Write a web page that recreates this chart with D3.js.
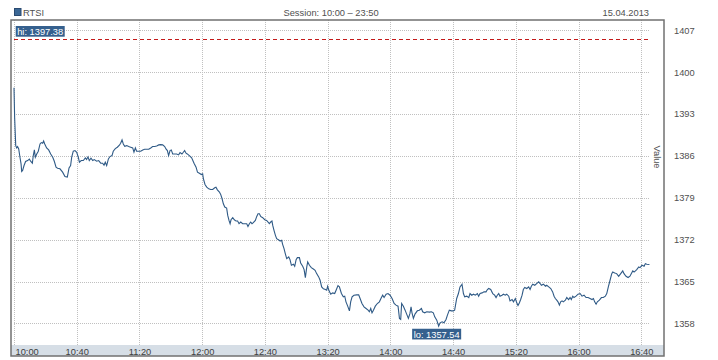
<!DOCTYPE html>
<html><head><meta charset="utf-8">
<script src="https://cdn.jsdelivr.net/npm/d3@7"></script>
<style>
body{margin:0;background:#fff;}
svg text{font-family:"Liberation Sans",Arial,sans-serif;font-size:9.3px;}
</style></head><body><svg id="c" width="718" height="360"></svg>
<script>
// ---- data ----
const seriesName = "RTSI";
const sessionText = "Session: 10:00 \u2013 23:50";
const dateText = "15.04.2013";
const axisTitle = "Value";
const refLevel = 1405.5;                 // dashed reference line
const yTicks = [1358, 1365, 1372, 1379, 1386, 1393, 1400, 1407];
const xTickMinutes = [0, 40, 80, 120, 160, 200, 240, 280, 320, 360, 400];
// minutes after 10:00
const times = [
0,0.4,1.1,1.7,2.3,3.0,3.8,4.5,4.9,5.5,
6.4,7.4,8.7,9.8,10.6,11.7,12.3,13.0,13.6,14.5,
15.5,16.6,17.4,18.3,18.9,19.6,20.8,22.1,23.4,24.7,
25.7,26.8,27.8,29.3,31.0,32.5,34.0,35.1,36.1,36.8,
37.8,38.9,40.0,41.0,41.7,42.9,44.2,45.5,46.3,47.2,
48.0,49.1,50.2,51.2,52.7,54.0,55.3,56.5,57.4,58.2,
59.1,60.2,61.2,62.5,63.3,64.6,65.9,67.2,68.0,68.9,
69.7,70.6,71.9,73.1,74.4,75.7,76.5,77.4,78.2,79.5,
80.8,82.1,83.3,84.6,85.9,87.2,88.4,89.7,91.0,92.3,
93.5,94.8,96.1,96.9,97.8,98.6,99.5,100.3,101.2,102.5,
103.7,105.0,105.9,107.1,108.0,108.8,109.7,110.5,111.8,
113.3,114.8,116.1,117.0,118.2,119.5,120.3,120.8,121.8,122.9,
124.2,125.4,126.7,128.0,128.8,129.7,131.0,131.8,132.7,133.5,
134.4,135.6,136.3,137.1,137.8,138.4,139.5,140.5,141.6,142.6,
143.5,144.6,145.8,147.3,148.4,149.2,150.1,150.9,151.8,152.6,
153.9,154.8,155.6,156.5,157.3,158.6,159.9,161.1,162.0,162.8,
163.7,164.5,165.0,165.8,166.7,167.5,168.6,169.7,170.7,171.3,
172.2,173.0,173.9,175.2,176.0,176.9,178.2,179.0,179.9,180.7,
182.0,182.8,184.1,185.0,185.8,186.7,187.3,188.4,189.6,190.9,
192.0,193.0,194.3,195.2,196.2,197.3,198.6,199.4,200.0,200.9,
202.0,203.2,204.5,205.4,206.6,207.5,208.8,210.0,210.9,211.7,
212.8,213.9,214.7,215.6,216.8,218.5,219.8,220.7,221.9,223.2,
224.5,225.8,226.6,227.5,228.3,229.2,230.4,231.7,233.0,234.3,
235.1,236.0,237.3,238.5,239.8,241.1,242.4,243.6,244.9,245.8,
246.6,
247.2,248.3,249.4,250.4,251.5,252.5,253.2,253.8,254.7,255.7,
257.2,258.5,259.8,260.6,261.9,263.2,264.9,266.2,267.4,268.3,
269.6,270.8,271.7,273.0,274.2,275.5,276.4,277.6,278.9,280.2,
281.0,282.3,283.4,284.4,285.3,285.7,286.6,287.4,288.7,290.0,
290.8,291.9,293.0,294.2,295.5,296.3,297.2,298.5,299.7,301.0,
301.9,302.7,304.0,305.3,306.5,307.4,308.2,309.1,309.9,311.2,
312.1,313.3,314.2,315.5,316.3,317.6,318.5,319.7,320.6,321.4,
322.3,323.1,324.0,324.8,325.7,327.0,328.2,329.1,329.9,330.8,
332.1,333.3,334.6,335.5,336.3,337.6,338.9,339.7,341.0,342.3,
343.5,344.4,345.2,346.1,346.9,347.8,348.6,349.5,350.3,351.6,
352.5,353.7,354.6,355.4,356.3,357.1,358.4,359.7,361.0,362.2,
363.5,364.8,366.1,367.3,368.6,369.5,370.3,371.2,372.0,373.3,
374.6,375.8,377.1,378.0,379.0,380.1,381.2,381.8,383.1,384.3,
385.6,386.9,388.2,389.0,390.3,391.6,392.8,393.7,394.6,395.4,
396.3,397.1,398.4,399.2,400.5,401.8,402.6,403.5,405.2
];
const values = [
1397.38,1392.44,1387.71,1387.32,1387.55,1387.16,1385.77,1384.66,1383.38,1383.55,
1384.38,1385.05,1385.21,1385.44,1385.1,1384.77,1386.05,1386.99,1385.77,1386.32,
1386.77,1387.99,1388.21,1388.1,1388.49,1387.99,1387.32,1386.99,1386.32,1385.77,
1385.1,1384.1,1383.94,1383.83,1383.27,1382.55,1382.44,1383.99,1384.38,1385.77,
1386.77,1386.88,1386.6,1385.77,1384.94,1385.21,1385.21,1385.66,1385.38,1385.83,
1385.21,1385.6,1385.21,1385.38,1385.1,1385.21,1384.77,1384.77,1384.44,1384.94,
1384.38,1385.49,1385.88,1386.05,1386.77,1387.21,1387.44,1387.77,1388.1,1388.66,
1387.99,1387.6,1387.71,1387.55,1387.44,1387.32,1386.6,1387.32,1386.77,1386.77,
1386.77,1386.99,1387.1,1387.1,1387.1,1387.32,1387.55,1387.55,1387.66,1387.83,
1387.88,1387.83,1387.55,1387.16,1386.88,1386.05,1386.88,1386.99,1386.32,1386.32,
1386.32,1386.16,1386.55,1386.32,1386.6,1386.88,1386.44,1386.32,1386.05,
1385.66,1384.77,1384.1,1383.27,1383.1,1382.88,1382.99,1382.16,1381.21,1380.77,
1380.49,1380.38,1380.38,1380.66,1380.77,1380.32,1379.94,1379.55,1378.83,1377.99,
1377.44,1377.27,1376.05,1375.21,1374.66,1375.32,1375.66,1375.32,1375.1,1375.1,
1374.66,1374.94,1374.66,1374.66,1374.66,1374.21,1374.66,1374.94,1374.66,1374.83,
1375.21,1375.88,1376.32,1376.32,1375.88,1375.66,1375.32,1375.21,1374.94,1374.66,
1374.94,1375.1,1374.38,1373.55,1372.71,1372.16,1371.99,1371.77,1371.88,1371.21,
1370.49,1369.66,1368.83,1369.1,1368.66,1367.71,1367.88,1367.55,1368.66,1368.99,
1368.99,1368.1,1367.55,1366.99,1365.66,1367.44,1368.27,1367.71,1367.32,1367.1,
1366.88,1366.32,1365.77,1365.21,1364.1,1363.77,1363.66,1363.55,1364.21,1363.44,
1362.88,1363.1,1362.99,1363.55,1364.32,1364.1,1362.99,1362.44,1362.55,1361.6,
1360.88,1360.1,1361.6,1362.44,1362.71,1362.77,1362.77,1362.16,1361.32,1360.77,
1360.49,1360.21,1359.94,1360.49,1359.77,1360.21,1360.88,1361.32,1361.6,1362.32,
1362.71,1362.32,1362.88,1362.99,1362.71,1362.16,1361.32,1361.05,1360.88,1358.83,
1358.66,
1361.32,1360.88,1360.21,1359.55,1358.83,1359.66,1360.77,1359.77,1358.83,1359.55,
1360.1,1360.21,1360.49,1359.94,1359.77,1359.94,1359.88,1359.94,1359.77,1359.1,
1358.55,1357.54,1358.1,1358.27,1358.1,1358.66,1359.38,1360.21,1360.1,1360.1,
1360.21,1362.16,1362.99,1364.1,1364.38,1364.55,1362.99,1362.44,1362.55,1362.32,
1362.99,1362.71,1362.88,1362.71,1362.99,1362.55,1362.99,1363.1,1363.27,1363.27,
1363.66,1363.83,1363.66,1362.99,1362.71,1362.32,1362.71,1362.99,1362.55,1362.71,
1362.88,1362.71,1362.88,1362.55,1361.77,1361.99,1361.6,1362.16,1361.44,1360.99,
1361.44,1361.99,1362.71,1363.66,1363.99,1363.83,1364.1,1363.66,1364.21,1364.55,
1364.38,1364.66,1364.94,1364.66,1364.38,1364.55,1364.21,1364.38,1364.1,1363.83,
1363.27,1362.55,1362.16,1361.88,1361.6,1361.05,1361.6,1361.77,1361.6,1361.88,
1362.32,1361.99,1362.32,1361.99,1362.55,1362.32,1362.55,1362.88,1362.99,1362.55,
1362.71,1362.32,1362.32,1362.16,1361.99,1362.16,1361.6,1361.21,1361.6,1361.88,
1362.32,1362.32,1362.55,1362.99,1364.1,1365.21,1366.32,1366.6,1366.44,1366.32,
1365.88,1366.32,1366.77,1366.32,1365.88,1365.66,1365.88,1366.32,1366.77,1366.6,
1366.77,1366.99,1367.44,1367.32,1367.71,1367.55,1367.99,1367.88,1367.83
];

// ---- layout ----
const frame = {left: 11, top: 20, right: 664, bottom: 356};
const bandTop = 345;
const gridLeft = 14, gridRight = 649;
const lineColor = "#2f5a86";
const labelFill = "#35608e";
const textColor = "#505050";

const base = new Date(2013, 3, 15, 10, 0, 0);
const toDate = m => new Date(base.getTime() + m * 60000);
const data = times.map((t, i) => ({date: toDate(t), value: values[i]}));

const x = d3.scaleTime()
  .domain([base, toDate(414.5)])
  .range([14, frame.right]);
const y = d3.scaleLinear()
  .domain([1354.39, 1408.70])
  .range([bandTop, frame.top]);

const svg = d3.select("#c");

// header
svg.append("rect").attr("x", 14.5).attr("y", 8.5).attr("width", 6.5).attr("height", 7)
  .attr("fill", "#3b6795").attr("stroke", "#2a4a70").attr("stroke-width", 1);
svg.append("text").attr("x", 23).attr("y", 15.5).attr("fill", textColor).text(seriesName);
svg.append("text").attr("x", 283.5).attr("y", 15.5).attr("fill", textColor).text(sessionText);
svg.append("text").attr("x", 649).attr("y", 15.5).attr("text-anchor", "end").attr("fill", textColor).text(dateText);

// x-axis band
svg.append("rect").attr("x", frame.left).attr("y", bandTop)
  .attr("width", frame.right - frame.left).attr("height", frame.bottom - bandTop)
  .attr("fill", "#d6dee6");

// grid
const grid = svg.append("g").attr("stroke", "#c0c0c0").attr("stroke-width", 1).attr("stroke-dasharray", "1,1");
grid.selectAll("line.h").data(yTicks).join("line").attr("class", "h")
  .attr("x1", gridLeft).attr("x2", gridRight)
  .attr("y1", d => Math.round(y(d)) + 0.5).attr("y2", d => Math.round(y(d)) + 0.5);
grid.selectAll("line.v").data(xTickMinutes).join("line").attr("class", "v")
  .attr("x1", d => Math.round(x(toDate(d))) + 0.5).attr("x2", d => Math.round(x(toDate(d))) + 0.5)
  .attr("y1", frame.top).attr("y2", bandTop);

// reference dashed line
svg.append("line")
  .attr("x1", gridLeft).attr("x2", gridRight)
  .attr("y1", Math.round(y(refLevel)) + 0.5).attr("y2", Math.round(y(refLevel)) + 0.5)
  .attr("stroke", "#c41a1a").attr("stroke-width", 1).attr("stroke-dasharray", "4,3");

// series line
const line = d3.line().x(d => x(d.date)).y(d => y(d.value));
svg.append("path").datum(data).attr("d", line)
  .attr("fill", "none").attr("stroke", lineColor).attr("stroke-width", 1.1);

// frame
svg.append("rect").attr("x", frame.left).attr("y", frame.top)
  .attr("width", frame.right - frame.left).attr("height", frame.bottom - frame.top)
  .attr("fill", "none").attr("stroke", "#707070").attr("stroke-width", 1.5);

// y axis (right)
const yAxis = d3.axisRight(y).tickValues(yTicks).tickSize(0).tickPadding(0).tickFormat(d3.format("d"));
const gy = svg.append("g").attr("transform", "translate(674,0)").call(yAxis);
gy.select(".domain").remove();
gy.selectAll("text").attr("fill", textColor).style("font-size", "9.3px").style("font-family", null);

// x axis
const xAxis = d3.axisBottom(x).tickValues(xTickMinutes.map(toDate)).tickSize(0).tickPadding(0)
  .tickFormat(d3.timeFormat("%H:%M"));
const gx = svg.append("g").attr("transform", `translate(0,${bandTop})`).call(xAxis);
gx.select(".domain").remove();
gx.selectAll("text").attr("fill", "#404040").attr("dy", null).attr("y", 10)
  .style("font-size", "9.3px");
gx.selectAll(".tick").filter((d, i) => i === 0).select("text")
  .attr("text-anchor", "start").attr("x", 1);
svg.selectAll("g text").attr("font-family", null);

// axis title
svg.append("text").attr("transform", "translate(653.5,157) rotate(90)")
  .attr("text-anchor", "middle").attr("fill", textColor).text(axisTitle);

// hi / lo labels
const hi = data.reduce((a, b) => (b.value > a.value ? b : a));
const lo = data.reduce((a, b) => (b.value < a.value ? b : a));

function badge(txt, cx, top, anchorLeft) {
  const g = svg.append("g");
  const t = g.append("text").attr("fill", "#fff").text(txt);
  const w = t.node().getComputedTextLength() + 3;
  const left = anchorLeft ? cx : cx - w / 2;
  g.insert("rect", "text").attr("x", left).attr("y", top).attr("width", w).attr("height", 10.7)
    .attr("fill", labelFill);
  t.attr("x", left + 1.5).attr("y", top + 9.2);
}
badge("hi: " + hi.value.toFixed(2), x(hi.date) + 1.7, 26, true);
badge("lo: " + lo.value.toFixed(2), x(lo.date) - 2, y(lo.value) + 2.6, false);
</script></body></html>
